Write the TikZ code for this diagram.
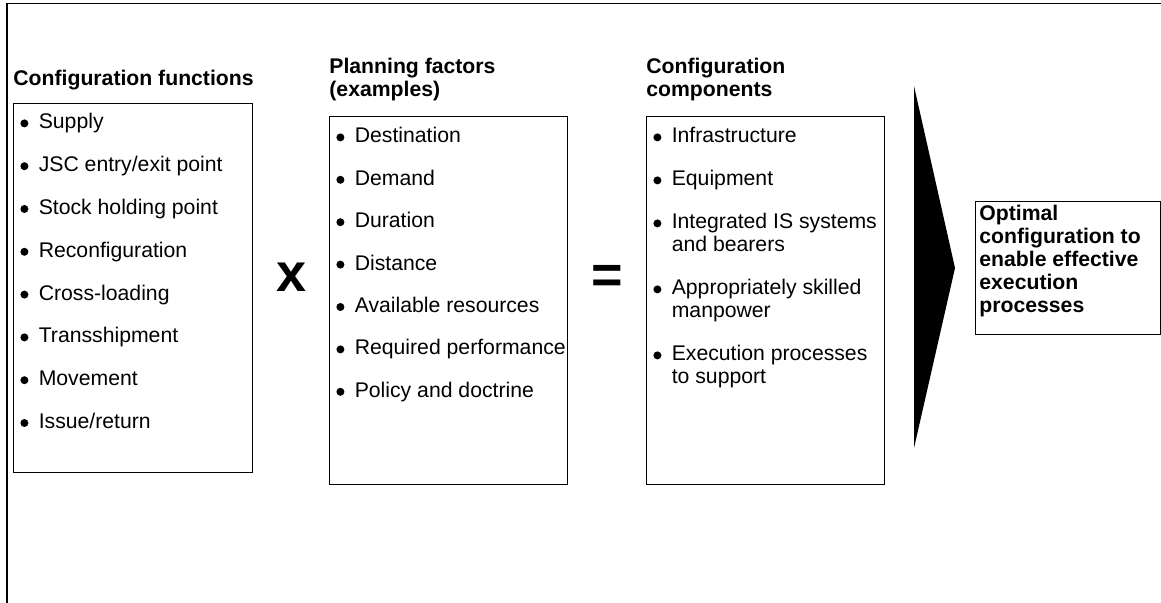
\documentclass[tikz,border=0pt]{standalone}
\usepackage{fontspec}
\setmainfont{Liberation Sans}
\usetikzlibrary{calc}

\newcommand{\bul}{\raisebox{0.8pt}{\tikz\fill (0,0) circle (2pt);}}

\begin{document}
\begin{tikzpicture}[
  x=0.5pt, y=-0.5pt,
  font=\fontsize{10.6}{11.5}\selectfont,
  box/.style={draw, line width=0.5pt, anchor=north west, inner sep=0pt},
  ttl/.style={anchor=base west, inner sep=0pt, align=left,
              font=\fontsize{10.6}{11.5}\selectfont\bfseries},
  lst/.style={anchor=base west, inner sep=0pt},
  op/.style={inner sep=0pt, font=\fontsize{27}{27}\selectfont\bfseries},
]
\useasboundingbox (0,0) rectangle (1161,603);
\draw[line width=0.75pt] (7,603) -- (7,3.5) -- (1161,3.5);

% configuration functions
\node[ttl] (fnttl) at (13,86) {Configuration functions};
\node[box, minimum width=119.5pt, minimum height=184.5pt] (fnbox) at (13,103) {};
\node[lst] (fnlist) at ($(fnbox.north west)+(7,26)$) {%
  \begin{tabular}[t]{@{}l@{\hspace{5.2pt}}l@{}}
  \bul & Supply\\[9.9pt]
  \bul & JSC entry/exit point\\[9.9pt]
  \bul & Stock holding point\\[9.9pt]
  \bul & Reconfiguration\\[9.9pt]
  \bul & Cross-loading\\[9.9pt]
  \bul & Transshipment\\[9.9pt]
  \bul & Movement\\[9.9pt]
  \bul & Issue/return
  \end{tabular}};

\node[op] (times) at (292,277) {x};

% planning factors (last line on the anchor)
\node[ttl] (pfttl) at (329,97) {Planning factors\\(examples)};
\node[box, minimum width=119pt, minimum height=184pt] (pfbox) at (329,116) {};
\node[lst] (pflist) at ($(pfbox.north west)+(7,27)$) {%
  \begin{tabular}[t]{@{}l@{\hspace{5.2pt}}l@{}}
  \bul & Destination\\[9.7pt]
  \bul & Demand\\[9.7pt]
  \bul & Duration\\[9.7pt]
  \bul & Distance\\[9.7pt]
  \bul & Available resources\\[9.7pt]
  \bul & Required performance\\[9.7pt]
  \bul & Policy and doctrine
  \end{tabular}};

\node[op, anchor=base] (equals) at (607,294) {=};

% configuration components
\node[ttl] (ccttl) at (646,97) {Configuration\\components};
\node[box, minimum width=119pt, minimum height=184pt] (ccbox) at (646,116) {};
\node[lst] (cclist) at ($(ccbox.north west)+(7,27)$) {%
  \begin{tabular}[t]{@{}l@{\hspace{5.2pt}}l@{}}
  \bul & Infrastructure\\[10pt]
  \bul & Equipment\\[10pt]
  \bul & Integrated IS systems\\
       & and bearers\\[10pt]
  \bul & Appropriately skilled\\
       & manpower\\[10pt]
  \bul & Execution processes\\
       & to support
  \end{tabular}};

% arrow and result
\coordinate (tritop) at (914,86);
\coordinate (tritip) at (955,268);
\coordinate (tribot) at (914,448);
\fill (tritop) -- (tritip) -- (tribot) -- cycle;

\node[box, minimum width=92.5pt, minimum height=66.5pt] (outbox) at (975,201) {};
\node[ttl] (outtxt) at (979,313) {Optimal\\configuration to\\enable effective\\execution\\processes};
\end{tikzpicture}
\end{document}
